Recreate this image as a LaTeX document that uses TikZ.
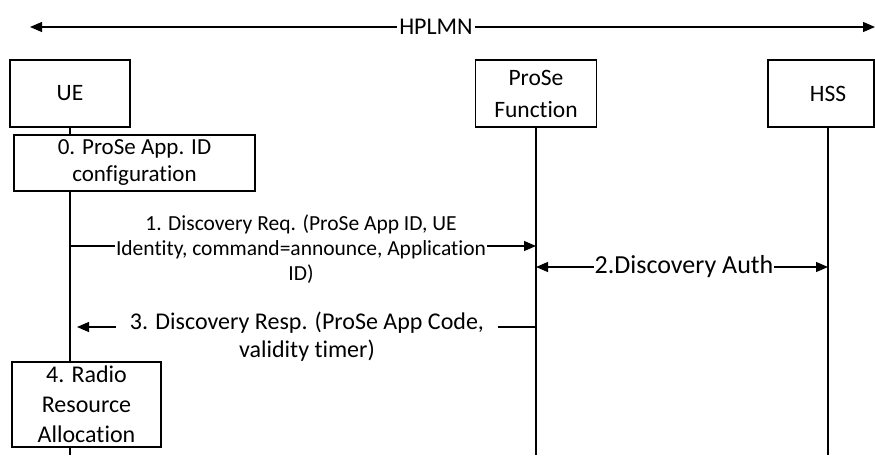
\documentclass[tikz,border=0pt]{standalone}
\usepackage{fontspec}
\setmainfont{Carlito}[Ligatures={NoCommon}]
\usetikzlibrary{arrows.meta}
\begin{document}
\begin{tikzpicture}[x=1pt,y=-1pt,line width=1.2pt,
  entity/.style={draw=black,fill=white,align=center,font=\fontsize{23.5}{28}\selectfont,inner sep=0pt},
  msg/.style={black,-{Triangle[length=12pt,width=10pt]}},
  bimsg/.style={black,{Triangle[length=12pt,width=10pt]}-{Triangle[length=12pt,width=10pt]}},
  msgtext/.style={fill=white,align=center,inner sep=1pt}]
  \useasboundingbox (0,0) rectangle (875,455);
  % network span
  \coordinate (hl) at (30,27);
  \coordinate (hr) at (875,27);
  \draw[bimsg] (hl) -- (hr);
  \node[msgtext,font=\fontsize{24}{28}\selectfont,inner sep=2pt] (hplmn) at (436,27) {HPLMN};
  % entities and lifelines
  \node[entity,minimum width=120,minimum height=67] (ue) at (70,93.5) {UE};
  \node[entity,minimum width=121,minimum height=67,font=\fontsize{23.5}{32}\selectfont] (prose) at (536,93.5) {ProSe\\Function};
  \node[entity,minimum width=106,minimum height=67] (hss) at (821,93.5) {\hspace*{14pt}HSS};
  \coordinate (ueend) at (70,455);
  \coordinate (proseend) at (536,455);
  \coordinate (hsstop) at (828,127);
  \coordinate (hssend) at (828,455);
  \draw[black] (ue.south) -- (ueend);
  \draw[black] (prose.south) -- (proseend);
  \draw[black] (hsstop) -- (hssend);
  % step 0
  \node[entity,minimum width=241,minimum height=56,font=\fontsize{23}{27}\selectfont] (cfg) at (134.5,163) {0. ProSe App. ID\\configuration};
  % messages
  \coordinate (req1) at (70,246);
  \coordinate (req2) at (536,246);
  \draw[msg] (req1) -- (req2);
  \node[msgtext,font=\fontsize{21.5}{25}\selectfont] (req) at (301,249)
    {1. Discovery Req. (ProSe App ID, UE\\Identity, command=announce, Application\\ID)};
  \coordinate (auth1) at (536,267);
  \coordinate (auth2) at (828,267);
  \draw[bimsg] (auth1) -- (auth2);
  \node[msgtext,font=\fontsize{26}{30}\selectfont] (auth) at (684,267) {2.Discovery Auth};
  \coordinate (resp1) at (536,327);
  \coordinate (resp2) at (77,327);
  \draw[msg] (resp1) -- (resp2);
  \node[msgtext,font=\fontsize{24}{28}\selectfont,inner xsep=14pt] (resp) at (307,337)
    {3. Discovery Resp. (ProSe App Code,\\validity timer)};
  % step 4
  \node[entity,minimum width=149,minimum height=85,font=\fontsize{24}{30}\selectfont] (radio) at (86.5,404.5) {4. Radio\\Resource\\Allocation};
\end{tikzpicture}
\end{document}
